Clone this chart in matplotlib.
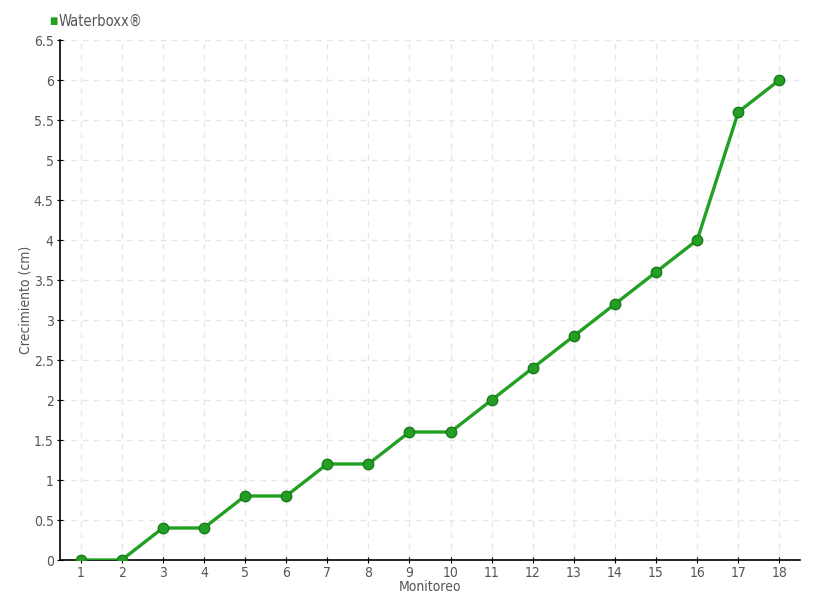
import matplotlib
matplotlib.use('Agg')
import matplotlib.pyplot as plt

monitoreo = list(range(1, 19))
crecimiento = [0, 0, 0.4, 0.4, 0.8, 0.8, 1.2, 1.2, 1.6, 1.6, 2, 2.4, 2.8, 3.2, 3.6, 4, 5.6, 6]
yticks = [0, 0.5, 1, 1.5, 2, 2.5, 3, 3.5, 4, 4.5, 5, 5.5, 6, 6.5]
ytick_labels = ['0', '0.5', '1', '1.5', '2', '2.5', '3', '3.5', '4', '4.5', '5', '5.5', '6', '6.5']

text_color = '#555555'
plt.rcParams['font.family'] = ['DejaVu Sans']
plt.rcParams['font.stretch'] = 'condensed'

fig = plt.figure(figsize=(8.2, 6), dpi=100)
ax = fig.add_axes([60 / 820, 40 / 600, 740 / 820, 520 / 600])

ax.plot(monitoreo, crecimiento, color='#22a022', linewidth=2.4, marker='o', markersize=7.5,
        markerfacecolor='#23a023', markeredgecolor='#1a7a1a', markeredgewidth=1, zorder=3)

ax.set_xlim(0.5, 18.5)
ax.set_ylim(0, 6.5)
ax.set_xticks(monitoreo)
ax.set_xticklabels([str(m) for m in monitoreo])
ax.set_yticks(yticks)
ax.set_yticklabels(ytick_labels)
ax.grid(True, color='#e6e6e6', linestyle=(0, (4, 4)), linewidth=1)
ax.set_axisbelow(True)

for s in ['top', 'right']:
    ax.spines[s].set_visible(False)
for s in ['left', 'bottom']:
    ax.spines[s].set_color('black')
    ax.spines[s].set_linewidth(1.2)

ax.tick_params(axis='both', colors='black', labelcolor=text_color, labelsize=10, length=5,
               direction='inout', pad=2)
ax.set_xlabel('Monitoreo', color=text_color, fontsize=10, labelpad=0)
ax.set_ylabel('Crecimiento (cm)', color=text_color, fontsize=10, labelpad=1)

fig.text(49 / 820, 1 - 21 / 600, '\u25a0', color='#22a022', fontsize=7, va='center', ha='left')
fig.text(59 / 820, 1 - 21 / 600, 'Waterboxx®', color=text_color, fontsize=10.5, va='center', ha='left')

fig.savefig('out.png', dpi=100)
